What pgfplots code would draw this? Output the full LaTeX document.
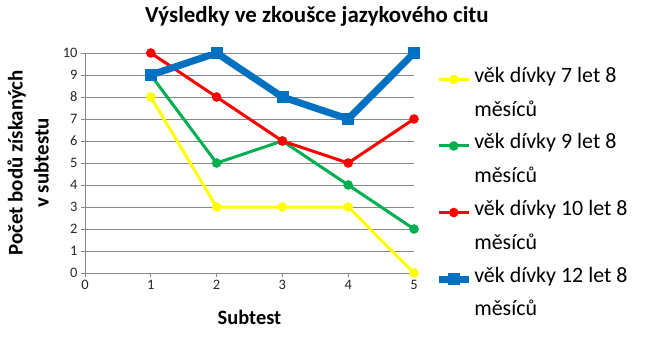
\documentclass[border=0pt]{standalone}
\usepackage{fontspec}
\setmainfont{Carlito}
\usepackage{pgfplots}
\pgfplotsset{compat=1.18}
\definecolor{cyellow}{HTML}{FFFF00}
\definecolor{cgreen}{HTML}{00B050}
\definecolor{cred}{HTML}{FF0000}
\definecolor{cblue}{HTML}{0070C0}
\definecolor{cgrid}{HTML}{868686}
\begin{document}
\begin{tikzpicture}
\path[use as bounding box] (-85bp,-68bp) rectangle (561bp,273bp);
\begin{axis}[
  scale only axis, width=329bp, height=220bp,
  at={(0,0)}, anchor=south west,
  xmin=0, xmax=5, ymin=0, ymax=10,
  xtick={0,1,2,3,4,5}, ytick={0,1,...,10},
  axis x line*=bottom, axis y line*=left,
  axis line style={cgrid, line width=0.8bp, -},
  ymajorgrids, grid style={cgrid, line width=0.8bp},
  tick style={cgrid, line width=0.8bp},
  tick align=outside, major tick length=4bp,
  /pgf/number format/assume math mode=true,
  ticklabel style={font=\fontsize{14.5}{16}\selectfont, text=black!85},
  title={Výsledky ve zkoušce jazykového citu},
  title style={font=\bfseries\fontsize{23}{26}\selectfont, at={(0.705,1)}, anchor=base, yshift=25bp},
  xlabel={Subtest},
  xlabel style={font=\bfseries\fontsize{20.5}{24}\selectfont, at={(0.5,0)}, anchor=base, yshift=-51bp},
  ylabel={Počet bodů získaných\\v subtestu},
  ylabel style={font=\bfseries\fontsize{21}{26}\selectfont, align=center, at={(-0.173,0.5)}, anchor=center},
  legend style={draw=none, fill=none, at={(1.055,0.955)}, anchor=north west,
    font=\fontsize{22}{32}\selectfont, cells={anchor=west, align=left}, row sep=12bp, column sep=0bp},
  legend cell align=left,
  legend image code/.code={\draw[yshift=13bp, mark repeat=2,mark phase=2] plot coordinates {(0bp,0bp) (15bp,0bp) (30bp,0bp)};},
]
\addplot[cyellow, line width=3bp, mark=*, mark size=3.2bp] coordinates {(1,8) (2,3) (3,3) (4,3) (5,0)};
\addlegendentry{věk dívky 7 let 8\\[2bp]měsíců}
\addplot[cgreen, line width=3bp, mark=*, mark size=3.2bp] coordinates {(1,9) (2,5) (3,6) (4,4) (5,2)};
\addlegendentry{věk dívky 9 let 8\\[2bp]měsíců}
\addplot[cred, line width=3bp, mark=*, mark size=3.2bp] coordinates {(1,10) (2,8) (3,6) (4,5) (5,7)};
\addlegendentry{věk dívky 10 let 8\\[2bp]měsíců}
\addplot[cblue, line width=7bp, mark=square*, mark size=5.5bp, mark options={line width=0.5bp}] coordinates {(1,9) (2,10) (3,8) (4,7) (5,10)};
\addlegendentry{věk dívky 12 let 8\\[2bp]měsíců}
\end{axis}
\end{tikzpicture}
\end{document}
